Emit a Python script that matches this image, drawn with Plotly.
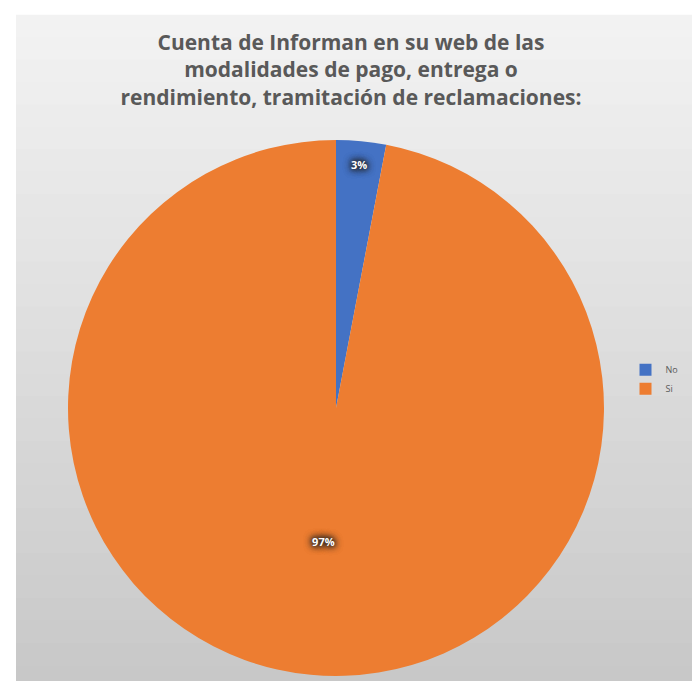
import plotly.graph_objects as go

labels = ["No", "Si"]
values = [3, 97]
colors = ["#4472C4", "#ED7D31"]
title_text = ("Cuenta de Informan en su web de las<br>modalidades de pago, entrega o<br>"
              "rendimiento, tramitación de reclamaciones:")

W, H = 700, 681

fig = go.Figure()
fig.add_trace(go.Pie(
    labels=labels,
    values=values,
    sort=False,
    direction="clockwise",
    rotation=0,
    marker=dict(colors=colors, line=dict(width=0)),
    textinfo="percent",
    textposition="inside",
    insidetextorientation="horizontal",
    textfont=dict(family="Open Sans", size=11, color="white", weight="bold",
                  shadow="0 0 4px #262626, 0 0 6px #262626, 0 0 8px #262626, 0 0 8px #262626"),
    domain=dict(x=[58 / W, 598 / W], y=[1 - 668 / H, 1 - 132 / H]),
    hoverinfo="label+percent",
))

# background band gradient (chart area)
shapes = []
n = 30
x0, y0 = 8 / W, 1 - 8 / H
top = (242, 242, 242)
bot = (200, 200, 200)
for i in range(n):
    t = i / (n - 1)
    c = tuple(int(round(top[k] + (bot[k] - top[k]) * t)) for k in range(3))
    ya = y0 - y0 * i / n
    yb = y0 - y0 * (i + 1) / n
    shapes.append(dict(type="rect", xref="paper", yref="paper", x0=x0, x1=1,
                       y0=yb, y1=ya + 0.002, fillcolor="rgb(%d,%d,%d)" % c,
                       line=dict(width=0), layer="below"))

fig.update_layout(
    width=W, height=H,
    margin=dict(l=0, r=0, t=0, b=0),
    paper_bgcolor="white",
    plot_bgcolor="white",
    shapes=shapes,
    title=dict(text=title_text, x=0.49, xanchor="center", y=1 - 42 / H, yanchor="top",
               font=dict(family="Open Sans", size=21, color="#595959", weight="bold")),
    legend=dict(x=0.965, y=0.455, xanchor="right", yanchor="middle",
                font=dict(family="Open Sans", size=9, color="#595959"),
                bgcolor="rgba(0,0,0,0)", itemwidth=30, tracegroupgap=0),
    showlegend=True,
)

fig.write_html("out.html")
